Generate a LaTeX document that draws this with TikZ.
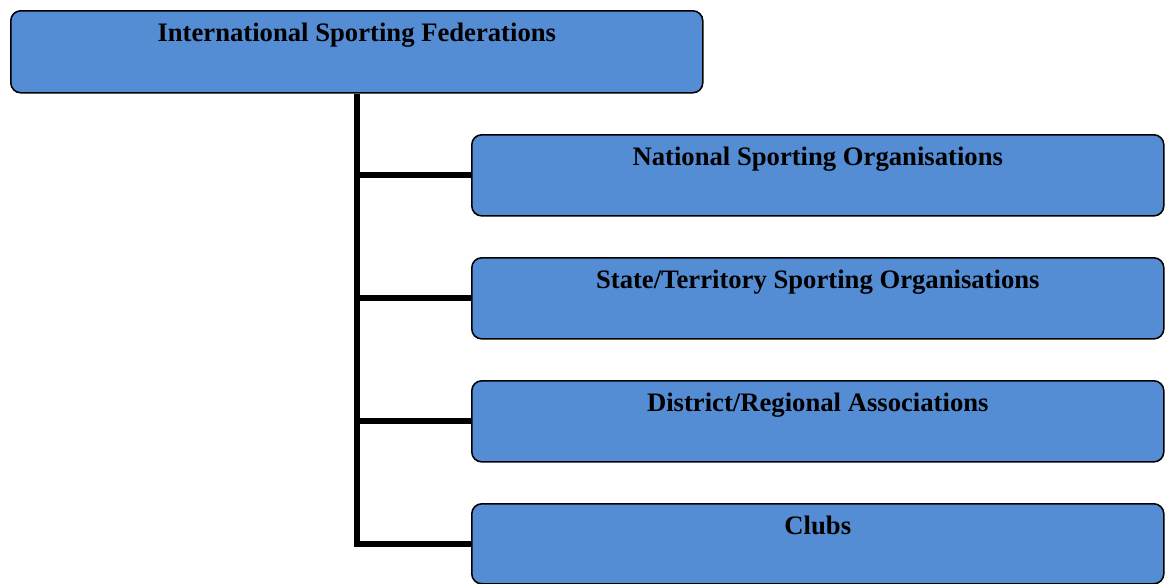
\documentclass[tikz,border=0pt]{standalone}
\usepackage{fontspec}
\setmainfont{Liberation Serif}
\usepackage{tikz}
\usetikzlibrary{positioning}

\definecolor{orgblue}{RGB}{84,141,212}

\tikzset{
  orgbox/.style={draw, line width=0.7pt, fill=orgblue, rounded corners=4.5pt,
    inner sep=0pt, minimum width=311.4pt, text height=13.6pt, text depth=22.9pt,
    font=\fontsize{12}{14}\selectfont\bfseries, anchor=north west},
  branch/.style={line width=2.7pt}
}

\begin{document}
\begin{tikzpicture}[x=0.45pt, y=-0.45pt]
                \useasboundingbox (0,0) rectangle (1167,583);

                % Boxes
                \node[orgbox, text depth=23.3pt] (ISF) at (10,10) {International Sporting Federations};
                \node[orgbox] (NSO) at (471,134) {National Sporting Organisations};
                \node[orgbox] (STSO) at (471,257) {State/Territory Sporting Organisations};
                \node[orgbox] (DRA) at (471,380) {District/Regional Associations};
                \node[orgbox, text depth=22.4pt] (Clubs) at (471,503) {Clubs};

                % Spine and branches
                \draw[branch] (ISF.south) -- (ISF.south |- Clubs.west) -- (Clubs.west);
                \draw[branch] (ISF.south |- NSO.west) -- (NSO.west);
                \draw[branch] (ISF.south |- STSO.west) -- (STSO.west);
                \draw[branch] (ISF.south |- DRA.west) -- (DRA.west);
            \end{tikzpicture}
\end{document}
